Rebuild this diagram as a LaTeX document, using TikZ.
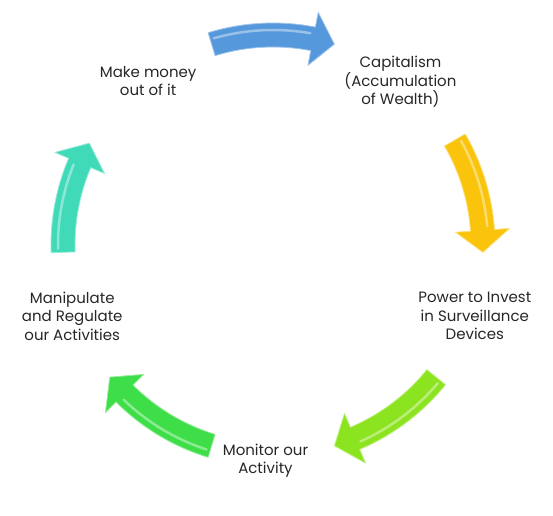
\documentclass[tikz,border=0pt]{standalone}
\usepackage{fontspec}
\setmainfont{Poppins}
\usepackage{xcolor}
\usetikzlibrary{positioning}
\definecolor{blueArrow}{RGB}{86,152,220}
\definecolor{yellowArrow}{RGB}{250,196,12}
\definecolor{limeArrow}{RGB}{140,228,32}
\definecolor{greenArrow}{RGB}{62,222,72}
\definecolor{tealArrow}{RGB}{64,218,184}

% curved block arrow on the circle: start angle, end angle, colour
\newcommand{\bentarrow}[3]{%
  \fill[#3, draw=#3!55!white, line width=0.8pt, line join=round]
    (#1:222pt) arc[start angle=#1, end angle=#2+6, radius=222pt]
    -- (#2+6:237pt) -- (#2:210pt) -- (#2+6:183pt) -- (#2+6:198pt)
    arc[start angle=#2+6, end angle=#1, radius=198pt] -- cycle;
  \draw[white, opacity=0.4, line width=2.5pt, line cap=round]
    (#1-1:215pt) arc[start angle=#1-1, end angle=#2+7, radius=215pt];
}

\tikzset{
  cyclelabel/.style={align=center, text=black!85,
    font=\fontsize{15}{18.5}\selectfont}
}

\begin{document}
\begin{tikzpicture}
    \useasboundingbox (0,0) rectangle (553pt,515pt);
    \coordinate (hub) at (273pt,270pt);

    \begin{scope}[shift={(hub)}]
        \bentarrow{107}{73}{blueArrow}
        \bentarrow{30}{-2}{yellowArrow}
        \bentarrow{-39}{-73}{limeArrow}
        \bentarrow{-107}{-141}{greenArrow}
        \bentarrow{182}{151}{tealArrow}

        \node[cyclelabel] (capital) at (52:207pt) {Capitalism\\(Accumulation\\of Wealth)};
        \node[cyclelabel] (invest) at (-19.4:214pt) {Power to Invest\\in Surveillance\\Devices};
        \node[cyclelabel] (monitor) at (-92:216pt) {Monitor our\\Activity};
        \node[cyclelabel] (manipulate) at (199.5:213pt) {Manipulate\\and Regulate\\our Activities};
        \node[cyclelabel] (money) at (127.3:206pt) {Make money\\out of it};
    \end{scope}
\end{tikzpicture}
\end{document}
